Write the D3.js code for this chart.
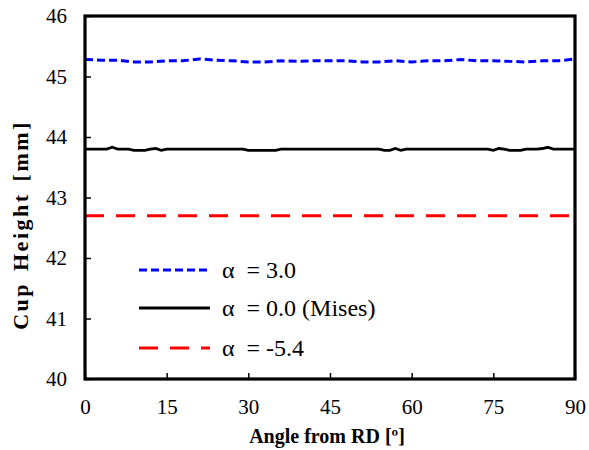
<!DOCTYPE html>
<html>
<head>
<meta charset="utf-8">
<script src="https://cdn.jsdelivr.net/npm/d3@7/dist/d3.min.js"></script>
<style>
  html, body { margin: 0; padding: 0; background: #fff; }
  svg { display: block; }
  text { font-family: "Liberation Serif", "Times New Roman", serif; fill: #000; }
</style>
</head>
<body>
<svg id="chart" width="589" height="450"></svg>
<script>
// Cup height around the circumference for three yield-function exponents
const anglesFine = d3.range(0, 91, 1);
const misesHeight = [
  43.80, 43.80, 43.80, 43.80, 43.80, 43.83, 43.80, 43.80, 43.80, 43.78,
  43.78, 43.78, 43.80, 43.81, 43.78, 43.80, 43.80, 43.80, 43.80, 43.80,
  43.80, 43.80, 43.80, 43.80, 43.80, 43.80, 43.80, 43.80, 43.80, 43.80,
  43.78, 43.78, 43.78, 43.78, 43.78, 43.78, 43.80, 43.80, 43.80, 43.80,
  43.80, 43.80, 43.80, 43.80, 43.80, 43.80, 43.80, 43.80, 43.80, 43.80,
  43.80, 43.80, 43.80, 43.80, 43.80, 43.78, 43.78, 43.81, 43.78, 43.80,
  43.80, 43.80, 43.80, 43.80, 43.80, 43.80, 43.80, 43.80, 43.80, 43.80,
  43.80, 43.80, 43.80, 43.80, 43.80, 43.78, 43.81, 43.80, 43.78, 43.78,
  43.78, 43.80, 43.80, 43.80, 43.81, 43.83, 43.80, 43.80, 43.80, 43.80,
  43.80
];

const anglesCoarse = d3.range(0, 91, 3);
const alpha30Height = [
  45.28, 45.27, 45.27, 45.24, 45.24, 45.26, 45.26, 45.29, 45.27, 45.26,
  45.24, 45.24, 45.26, 45.25, 45.26, 45.26, 45.26, 45.24, 45.24, 45.26,
  45.24, 45.26, 45.26, 45.28, 45.26, 45.26, 45.25, 45.24, 45.26, 45.26,
  45.29
];

const anglesEnds = [0, 90];
const alphaNeg54Height = [42.7, 42.7];

const xTicks = [0, 15, 30, 45, 60, 75, 90];
const yTicks = [40, 41, 42, 43, 44, 45, 46];

const legendLabels = ["\u03B1  = 3.0", "\u03B1  = 0.0 (Mises)", "\u03B1  = -5.4"];

const svg = d3.select("#chart");
const plotLeft = 85, plotRight = 575, plotTop = 16, plotBottom = 379;

const x = d3.scaleLinear().domain([0, 90]).range([plotLeft, plotRight]);
const y = d3.scaleLinear().domain([40, 46]).range([plotBottom, plotTop]);

const series = [
  { xs: anglesCoarse, ys: alpha30Height, color: "#0000ff", dash: "8,4", width: 3 },
  { xs: anglesFine, ys: misesHeight, color: "#000000", dash: null, width: 2.8 },
  { xs: anglesEnds, ys: alphaNeg54Height, color: "#ff0000", dash: "19,12", width: 3 }
];

const line = d3.line().x(d => x(d[0])).y(d => y(d[1]));

const g = svg.append("g");

series.forEach(s => {
  g.append("path")
    .datum(s.xs.map((a, i) => [a, s.ys[i]]))
    .attr("d", line)
    .attr("fill", "none")
    .attr("stroke", s.color)
    .attr("stroke-width", s.width)
    .attr("stroke-dasharray", s.dash);
});

// Axes with inward ticks
const xAxis = d3.axisBottom(x).tickValues(xTicks).tickSize(-6).tickPadding(20);
const yAxis = d3.axisLeft(y).tickValues(yTicks).tickFormat(d3.format("d")).tickSize(-6).tickPadding(18);

const gx = svg.append("g").attr("transform", `translate(0,${plotBottom})`).call(xAxis);
const gy = svg.append("g").attr("transform", `translate(${plotLeft},0)`).call(yAxis);

[gx, gy].forEach(ax => {
  ax.attr("font-family", null).attr("font-size", null);
  ax.select(".domain").remove();
  ax.selectAll(".tick line").attr("stroke", "#000").attr("stroke-width", 1.5);
  ax.selectAll(".tick text")
    .attr("fill", "#000")
    .style("font-size", "21px");
});

// Plot frame
svg.append("rect")
  .attr("x", plotLeft).attr("y", plotTop)
  .attr("width", plotRight - plotLeft).attr("height", plotBottom - plotTop)
  .attr("fill", "none").attr("stroke", "#000").attr("stroke-width", 3.2);

// Axis titles
svg.append("text")
  .attr("x", 327).attr("y", 443)
  .attr("text-anchor", "middle")
  .style("font-weight", "bold").style("font-size", "20px")
  .text("Angle from RD [\u00BA]");

svg.append("text")
  .attr("transform", "translate(28,225) rotate(-90)")
  .attr("text-anchor", "middle")
  .style("font-weight", "bold").style("font-size", "22px")
  .style("letter-spacing", "2.5px")
  .style("word-spacing", "3px")
  .text("Cup Height [mm]");

// Legend
const legend = svg.append("g");
const legendY = [270, 308, 348];
series.forEach((s, i) => {
  legend.append("line")
    .attr("x1", 139).attr("x2", 210)
    .attr("y1", legendY[i]).attr("y2", legendY[i])
    .attr("stroke", s.color)
    .attr("stroke-width", s.width)
    .attr("stroke-dasharray", s.dash);
  legend.append("text")
    .attr("x", 222).attr("y", legendY[i] + 8)
    .style("font-size", "24px")
    .style("white-space", "pre")
    .text(legendLabels[i]);
});
</script>
</body>
</html>
